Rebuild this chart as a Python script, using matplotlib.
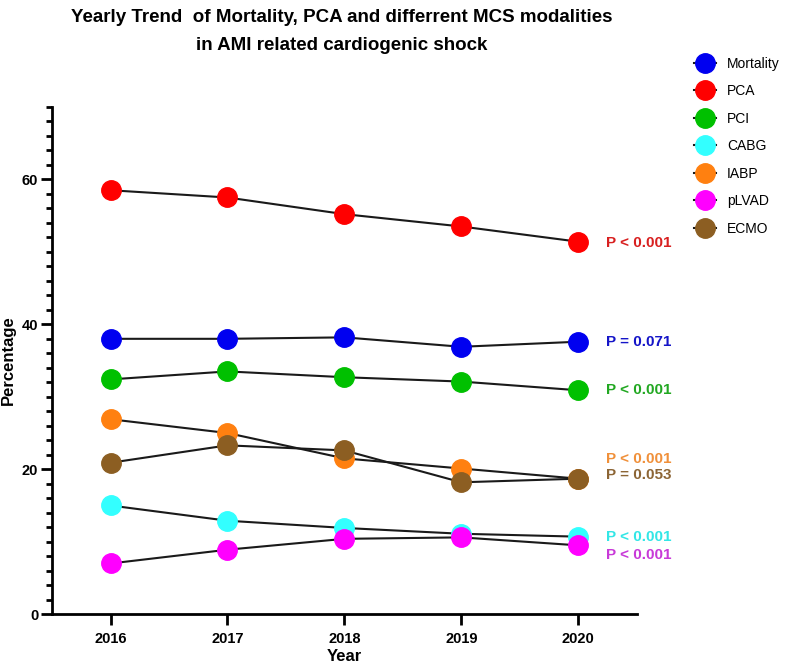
import matplotlib
matplotlib.use("Agg")
import matplotlib.pyplot as plt
from matplotlib.ticker import MultipleLocator

plt.rcParams['font.family'] = ['Liberation Sans', 'DejaVu Sans']

years = [2016, 2017, 2018, 2019, 2020]

mortality = [38.0, 38.0, 38.2, 36.9, 37.6]
pca = [58.5, 57.5, 55.2, 53.5, 51.4]
pci = [32.4, 33.5, 32.7, 32.1, 30.9]
cabg = [15.0, 12.9, 11.9, 11.1, 10.7]
iabp = [26.9, 25.0, 21.5, 20.1, 18.7]
plvad = [7.0, 8.9, 10.4, 10.6, 9.5]
ecmo = [20.9, 23.3, 22.6, 18.2, 18.7]

names = ["Mortality", "PCA", "PCI", "CABG", "IABP", "pLVAD", "ECMO"]
series = [mortality, pca, pci, cabg, iabp, plvad, ecmo]
colors = ["#0000F0", "#FF0000", "#00C000", "#33FFFF", "#FF8010", "#FF00FF", "#8C5E22"]
p_labels = ["P = 0.071", "P < 0.001", "P < 0.001", "P < 0.001", "P < 0.001", "P < 0.001", "P = 0.053"]
p_colors = ["#1515C8", "#D82020", "#22A822", "#33E6E6", "#F0903A", "#C83AD8", "#8C6535"]
# vertical nudge (points) of each p label from the last point
p_offsets = [0, -1, 0, 0, 14.5, -7, 3]

fig = plt.figure(figsize=(7.89, 6.64), dpi=100)
ax = fig.add_axes([0.066, 0.075, 0.741, 0.764])

for name, vals, c in zip(names, series, colors):
    ax.plot(years, vals, color="#1a1a1a", lw=1.5, marker="o", markersize=14,
            markerfacecolor=c, markeredgecolor=c, label=name, zorder=3)

for vals, lab, c, dy in zip(series, p_labels, p_colors, p_offsets):
    ax.annotate(lab, xy=(years[-1], vals[-1]), xytext=(20, dy), textcoords="offset points",
                color=c, fontsize=11, fontweight="bold", va="center", ha="left",
                annotation_clip=False)

ax.set_xlim(2015.5, 2020.5)
ax.set_ylim(0, 70)
ax.set_xticks(years)
ax.yaxis.set_major_locator(MultipleLocator(20))
ax.yaxis.set_minor_locator(MultipleLocator(2))
ax.tick_params(axis="both", which="major", direction="out", length=8, width=2, labelsize=10.5, pad=2)
ax.tick_params(axis="x", which="major", pad=5)
ax.tick_params(axis="y", which="minor", direction="out", length=4.5, width=2)
for lab in ax.get_xticklabels() + ax.get_yticklabels():
    lab.set_fontweight("bold")
for s in ["top", "right"]:
    ax.spines[s].set_visible(False)
for s in ["left", "bottom"]:
    ax.spines[s].set_linewidth(2)

ax.set_xlabel("Year", fontsize=12, fontweight="bold", labelpad=2)
ax.set_ylabel("Percentage", fontsize=12, fontweight="bold")
ax.yaxis.set_label_coords(-0.062, 0.5)

fig.text(0.433, 0.986, "Yearly Trend  of Mortality, PCA and differrent MCS modalities\nin AMI related cardiogenic shock",
         ha="center", va="top", fontsize=13.5, fontweight="bold", linespacing=1.85)

fig.legend(loc="upper left", bbox_to_anchor=(0.872, 0.923), frameon=False, fontsize=10,
           handlelength=1.6, handletextpad=0.8, labelspacing=0.97, borderaxespad=0)

fig.savefig("out.png", dpi=100)
